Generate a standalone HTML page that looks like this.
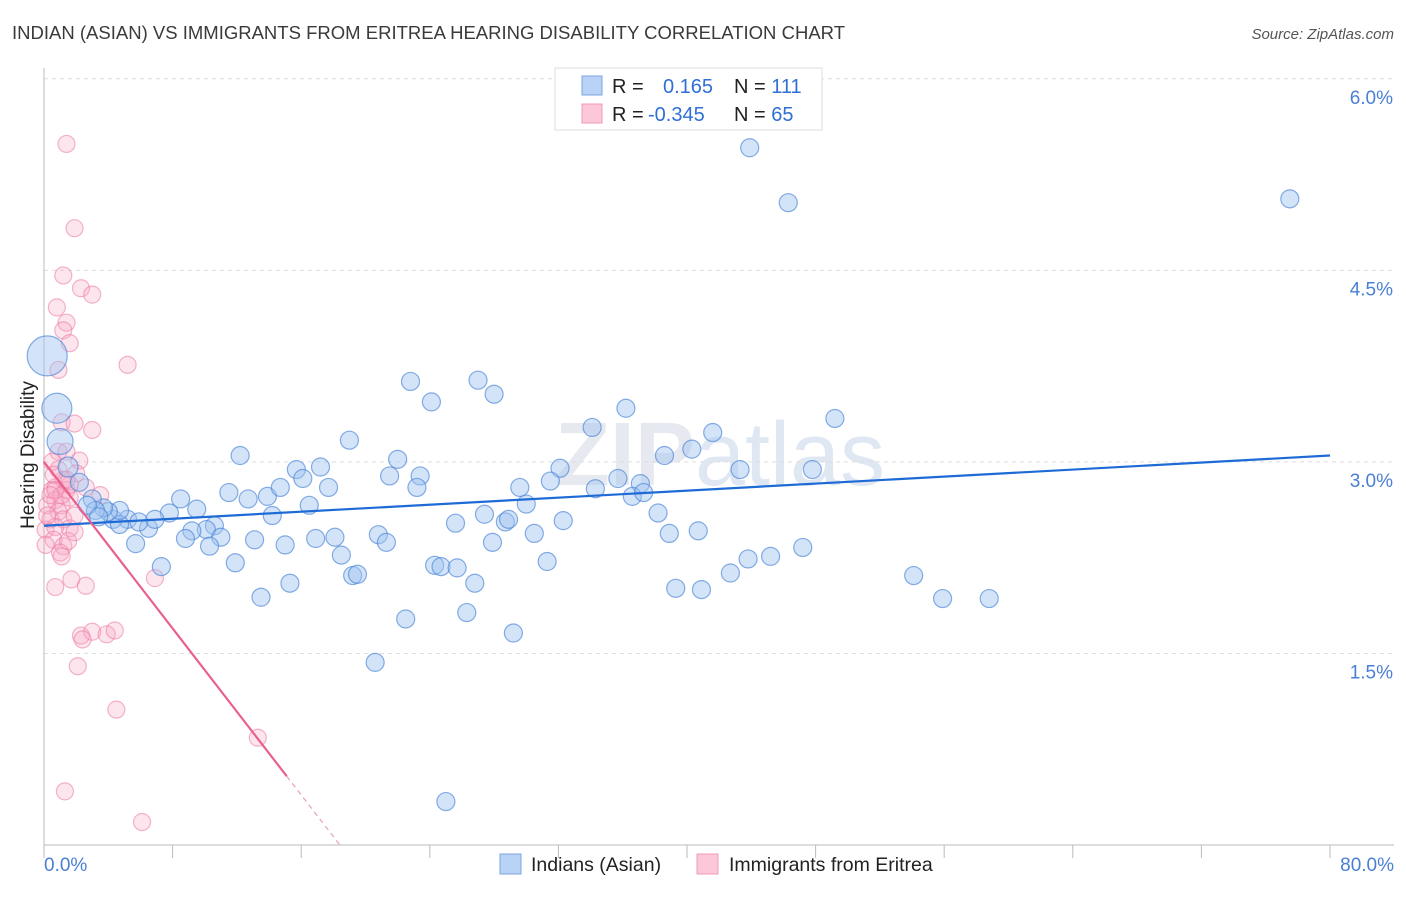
<!DOCTYPE html>
<html><head><meta charset="utf-8"><style>
body{margin:0;background:#fff;font-family:"Liberation Sans",sans-serif;}
</style></head><body>
<svg width="1406" height="892" xmlns="http://www.w3.org/2000/svg" style="font-family:'Liberation Sans',sans-serif">
<text x="12" y="39" font-size="18.5" fill="#3a3a3a" textLength="833">INDIAN (ASIAN) VS IMMIGRANTS FROM ERITREA HEARING DISABILITY CORRELATION CHART</text>
<text x="1394" y="39" font-size="15" fill="#555" font-style="italic" text-anchor="end">Source: ZipAtlas.com</text>
<text x="720" y="485" font-size="90" fill="#e6e9ef" text-anchor="middle" font-weight="bold">ZIP<tspan font-weight="normal" fill="#dfe7f3">atlas</tspan></text>
<g id="grid"></g>
<g id="axes"></g>
<g id="pts"></g>
<g id="trend"></g>
<text transform="translate(34,455) rotate(-90)" font-size="19" fill="#222" text-anchor="middle">Hearing Disability</text>
<g>
<rect x="555" y="68" width="267" height="62" fill="#fff" stroke="#ddd"/>
<rect x="582" y="76" width="20" height="19" fill="#b8d3f5" stroke="#7aa5e0"/>
<rect x="582" y="104" width="20" height="19" fill="#fcc7d8" stroke="#f09ab6"/>
<text x="612" y="93" font-size="20" fill="#222">R = <tspan x="663" fill="#2f6fd6">0.165</tspan><tspan x="734" fill="#222">N = </tspan><tspan fill="#2f6fd6">111</tspan></text>
<text x="612" y="121" font-size="20" fill="#222">R = <tspan x="648" fill="#2f6fd6">-0.345</tspan><tspan x="734" fill="#222">N = </tspan><tspan fill="#2f6fd6">65</tspan></text>
</g>
<g>
<rect x="500" y="854" width="21" height="20" fill="#b8d3f5" stroke="#7aa5e0"/>
<text x="531" y="871" font-size="19.5" fill="#222">Indians (Asian)</text>
<rect x="697" y="854" width="21" height="20" fill="#fcc7d8" stroke="#f09ab6"/>
<text x="729" y="871" font-size="19.5" fill="#222">Immigrants from Eritrea</text>
</g>
</svg>
<script>
const yTicks=[1.5,3.0,4.5,6.0];
const yTickLabels=["1.5%","3.0%","4.5%","6.0%"];
const xTicks=[0,8,16,24,32,40,48,56,64,72,80];
const blueX=[43.9,46.3,77.5,49.2,41.6,38.6,40.3,36.2,34.1,32.1,31.5,27.0,28.0,22.8,24.1,19.0,22.0,23.4,21.5,23.2,15.7,17.2,16.1,17.7,12.2,13.9,12.7,11.5,14.7,9.5,8.5,7.8,16.5,14.2,10.6,10.1,9.2,11.0,8.8,10.3,13.1,15.0,16.9,18.1,18.5,20.8,21.3,25.6,27.4,28.7,28.9,27.9,30.5,32.3,30.0,29.6,34.3,35.7,37.1,36.6,37.3,38.2,38.9,40.7,43.3,47.8,11.9,7.3,5.7,6.5,5.2,4.3,4.7,5.9,6.9,4.7,4.0,3.7,3.0,2.2,1.5,1.0,0.8,0.2,19.2,19.5,24.3,24.7,25.7,26.8,31.3,15.3,13.5,20.6,22.5,26.3,29.2,39.3,40.9,42.7,43.8,45.2,47.2,54.1,55.9,58.8,25.0,3.2,2.7,3.4];
const blueY=[5.46,5.03,5.06,3.34,3.23,3.05,3.10,3.42,3.27,2.95,2.85,3.64,3.53,3.63,3.47,3.17,3.02,2.89,2.89,2.80,2.94,2.96,2.87,2.80,3.05,2.73,2.71,2.76,2.80,2.63,2.71,2.60,2.66,2.58,2.50,2.47,2.46,2.41,2.40,2.34,2.39,2.35,2.40,2.41,2.27,2.43,2.37,2.52,2.59,2.53,2.55,2.37,2.44,2.54,2.67,2.80,2.79,2.87,2.83,2.73,2.76,2.60,2.44,2.46,2.94,2.94,2.21,2.18,2.36,2.48,2.55,2.55,2.51,2.53,2.55,2.62,2.61,2.64,2.71,2.84,2.96,3.16,3.42,3.83,2.11,2.12,2.19,2.18,2.17,2.05,2.22,2.05,1.94,1.43,1.77,1.82,1.66,2.01,2.00,2.13,2.24,2.26,2.33,2.11,1.93,1.93,0.34,2.62,2.66,2.57];
const pinkX=[1.4,1.9,1.2,2.3,3.0,0.8,1.4,1.2,1.6,5.2,0.9,1.1,1.9,3.0,0.9,1.4,2.2,2.0,1.2,0.7,0.5,1.4,2.6,3.5,0.7,1.1,1.6,0.2,0.9,0.4,1.2,0.1,1.6,0.7,0.6,1.2,1.5,1.0,1.1,1.7,0.7,2.6,6.9,2.3,3.0,2.4,3.9,4.4,2.1,4.5,13.3,1.3,6.1,1.9,0.2,0.7,1.1,0.4,0.9,0.5,1.6,1.4,1.9,0.1,0.6];
const pinkY=[5.49,4.83,4.46,4.36,4.31,4.21,4.09,4.03,3.93,3.76,3.72,3.31,3.30,3.25,3.08,3.08,3.01,2.91,2.86,2.80,2.78,2.78,2.80,2.74,2.70,2.66,2.72,2.66,2.61,2.55,2.55,2.47,2.48,2.49,2.39,2.34,2.38,2.29,2.26,2.08,2.02,2.03,2.09,1.64,1.67,1.61,1.65,1.68,1.40,1.06,0.84,0.42,0.18,2.45,2.58,2.78,2.74,2.74,2.94,3.00,2.82,2.86,2.58,2.35,2.90];
const blueTrend=[2.50,0.006875];
const pinkTrend=[3.00,-0.163];
const pinkSolidEnd=15.1;
const bigBlue={80:10,81:13,82:15,83:20};

const NS="http://www.w3.org/2000/svg";
const X=v=>44+v*16.075, Y=v=>845-v*127.7;
function mk(t,a,p){const e=document.createElementNS(NS,t);for(const k in a)e.setAttribute(k,a[k]);p.appendChild(e);return e;}
const grid=document.getElementById('grid'),axes=document.getElementById('axes'),pts=document.getElementById('pts'),tr=document.getElementById('trend');
yTicks.forEach((v,i)=>{
 const l=mk('line',{x1:44,x2:1394,y1:Y(v),y2:Y(v),stroke:'#ddd','stroke-dasharray':'4,4'},grid);
 
 
 const t=mk('text',{x:1393,y:Y(v)+25,'font-size':19,fill:'#4a7fd4','text-anchor':'end'},axes);
 t.textContent=yTickLabels[i];
 
 
});
mk('line',{x1:44,x2:44,y1:68,y2:845,stroke:'#bbb'},axes);
mk('line',{x1:44,x2:1394,y1:845,y2:845,stroke:'#bbb'},axes);
xTicks.forEach(v=>{const l=mk('line',{x1:X(v),x2:X(v),y1:845,y2:858,stroke:'#bbb'},axes);
 
 });
let t0=mk('text',{x:44,y:871,'font-size':19,fill:'#4a7fd4'},axes);t0.textContent='0.0%';


let t1=mk('text',{x:1394,y:871,'font-size':19,fill:'#4a7fd4','text-anchor':'end'},axes);t1.textContent='80.0%';


pinkX.forEach((x,i)=>{const c=mk('circle',{cx:X(x),cy:Y(pinkY[i]),r:8.5,fill:'rgba(248,170,198,0.3)',stroke:'rgba(235,120,160,0.55)','stroke-width':1.2},pts);
 
 });
blueX.forEach((x,i)=>{const c=mk('circle',{cx:X(x),cy:Y(blueY[i]),r:bigBlue[i]||9,fill:'rgba(160,195,240,0.45)',stroke:'rgba(70,130,215,0.65)','stroke-width':1.2},pts);
 
 });
const bl=mk('line',{x1:X(0),y1:Y(blueTrend[0]),x2:X(80),y2:Y(blueTrend[0]+80*blueTrend[1]),stroke:'#1f6bd6','stroke-width':2.2},tr);


const pl=mk('line',{x1:X(0),y1:Y(pinkTrend[0]),x2:X(pinkSolidEnd),y2:Y(pinkTrend[0]+pinkSolidEnd*pinkTrend[1]),stroke:'#e8608c','stroke-width':2.2},tr);


const zx=-pinkTrend[0]/pinkTrend[1];
const pd=mk('line',{x1:X(pinkSolidEnd),y1:Y(pinkTrend[0]+pinkSolidEnd*pinkTrend[1]),x2:X(zx),y2:Y(0),stroke:'#e8a0b8','stroke-width':1.2,'stroke-dasharray':'5,4'},tr);


</script>
</body></html>
